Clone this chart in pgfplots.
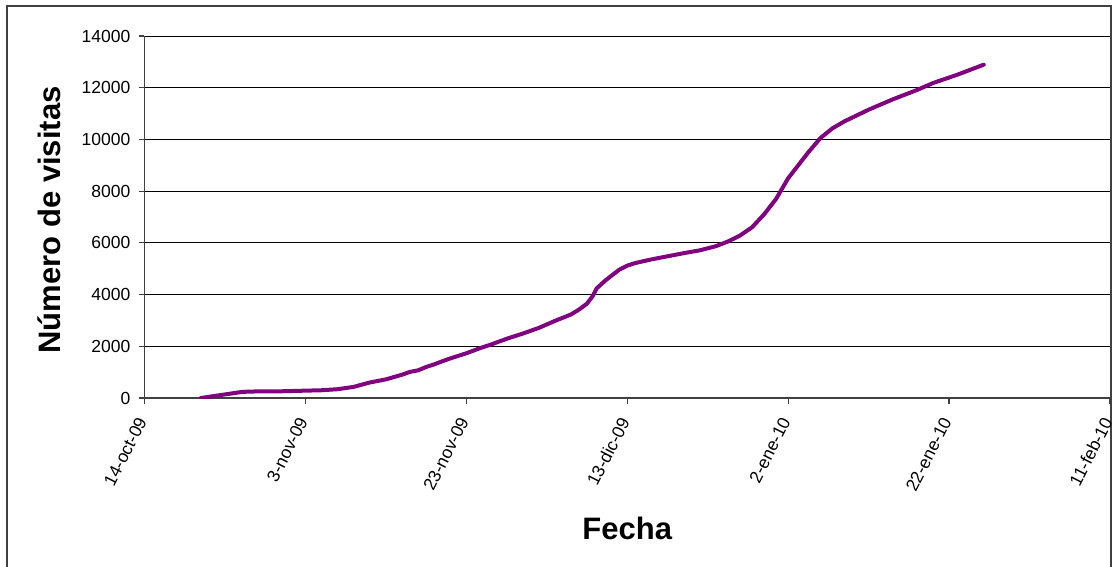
\documentclass[border=0pt]{standalone}
\usepackage{pgfplots}
\pgfplotsset{compat=1.18}
\usepackage{fontspec}
\setmainfont{Liberation Sans}
\definecolor{linepurple}{RGB}{128,0,128}
\definecolor{axisgray}{RGB}{64,64,64}

\begin{document}
\begin{tikzpicture}
\useasboundingbox (-144.5pt,-168pt) rectangle (967.5pt,398pt);
\fill[white] (-144.5pt,-168pt) rectangle (967.5pt,398pt);
\draw[line width=1.5pt, axisgray] (-137.5pt,-175pt) -- (-137.5pt,392pt) -- (966.5pt,392pt) -- (966.5pt,-175pt);
\begin{axis}[
    at={(0pt,0pt)}, anchor=south west,
    scale only axis,
    width=965.5pt, height=362pt,
    xmin=0, xmax=120,
    ymin=0, ymax=14000,
    axis x line*=bottom, axis y line*=left,
    axis line style={-, line width=1.5pt, axisgray},
    tick align=outside,
    major tick length=6pt,
    tick style={line width=1.2pt, axisgray},
    xtick={0,20,...,120},
    xticklabels={14-oct-09,3-nov-09,23-nov-09,13-dic-09,2-ene-10,22-ene-10,11-feb-10},
    ytick={0,2000,...,14000},
    scaled y ticks=false,
    /pgf/number format/1000 sep={},
    /pgf/number format/assume math mode=true,
    ymajorgrids,
    grid style={line width=1pt, black},
    ticklabel style={font=\fontsize{17.5pt}{20pt}\selectfont},
    yticklabel style={inner sep=4pt, xshift=-4pt},
    xticklabel style={yshift=-12pt, xshift=-1pt, rotate=63, anchor=east, inner sep=3pt},
    xlabel={Fecha},
    ylabel={Número de visitas},
    label style={font=\fontsize{31pt}{36pt}\selectfont\bfseries},
    xlabel style={at={(axis description cs:0.5,-0.392)}, anchor=base},
    ylabel style={at={(axis description cs:-0.0875,0.492)}, anchor=base, rotate=0},
]
\addplot[linepurple, line width=4pt, line join=round, line cap=round] coordinates {
(7,0) (12,230) (13,250) (17,260) (22,300) (24,340) (26,430) (28,600)
(30,720) (32,900) (33,1010) (34,1070) (35,1200) (36,1300) (37,1420)
(38,1530) (40,1730) (42,1960) (43,2060) (45,2290) (47,2490) (49,2710)
(51,2980) (53,3230) (54,3420) (55,3650) (55.7,3940) (56.2,4240)
(57.3,4550) (58,4720) (59,4960) (60,5120) (61,5220) (63,5360)
(65,5480) (67,5600) (69,5710) (71,5870) (72.5,6050) (74,6280)
(75.5,6600) (77,7100) (78.5,7700) (80,8500) (81,8900) (82.5,9500)
(84,10050) (85.5,10430) (87,10700) (90,11150) (93,11550) (96,11910)
(98,12180) (101,12500) (104.3,12890)
};
\end{axis}
\end{tikzpicture}
\end{document}
